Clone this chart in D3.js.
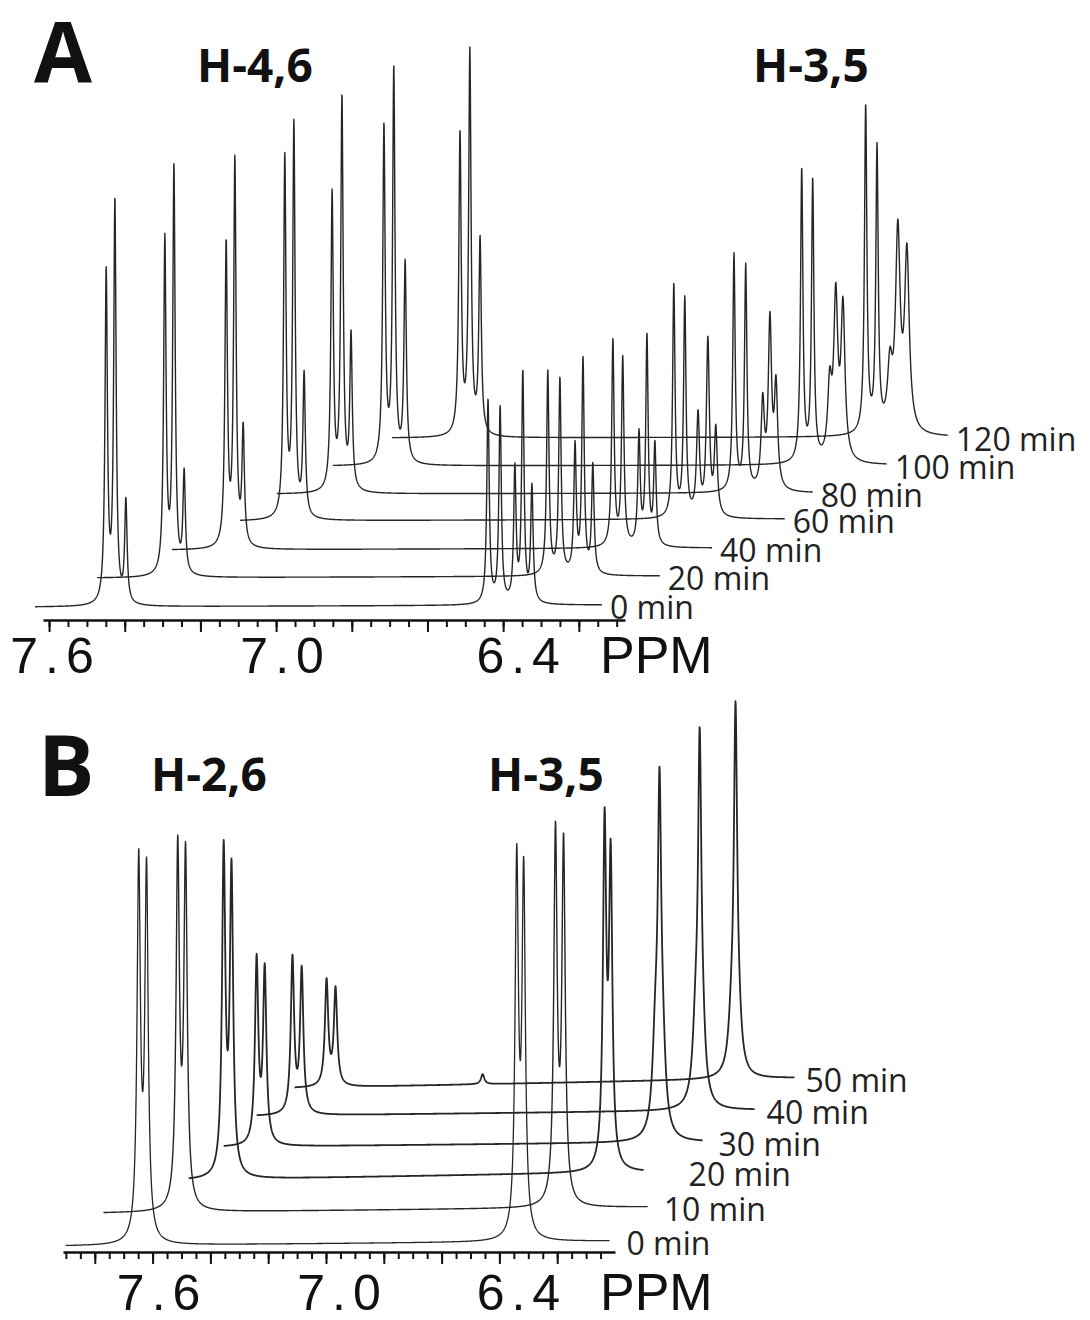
<!DOCTYPE html>
<html>
<head>
<meta charset="utf-8">
<script src="https://cdn.jsdelivr.net/npm/d3@7"></script>
<style>
  html, body { margin: 0; padding: 0; background: #fff; }
  svg { display: block; }
</style>
</head>
<body>
<div id="chart"></div>
<script>
// ==============================
// DATA
// ==============================

// --- panel A: H-4,6 and H-3,5, 0-120 min ---
const timesA = ['0 min', '20 min', '40 min', '60 min', '80 min', '100 min', '120 min'];
// ppm at the left and right end of every trace (as drawn against the axis)
const rangesA = [
  [7.637, 6.139], [7.473, 5.986], [7.275, 5.848], [7.095, 5.656],
  [6.998, 5.582], [6.850, 5.386], [6.694, 5.225],
];
// baseline level of each trace, left / right end (intensity units)
const basesA = [[-2, 0], [27, 29], [55, 57], [84, 86], [111, 112], [139, 140], [167, 168]];
// peaks: [ppm, height, half-width (optional, ppm)]
const peaksA = [
  [[7.449, 330], [7.426, 400], [7.397, 101], [6.440, 203], [6.408, 195], [6.369, 132], [6.348, 228], [6.324, 115]],
  [[7.294, 334], [7.270, 405], [7.243, 100], [6.282, 203], [6.250, 195], [6.210, 126], [6.189, 213], [6.163, 108]],
  [[7.132, 301], [7.109, 384], [7.087, 115], [6.110, 206], [6.084, 187], [6.041, 110], [6.020, 208], [5.999, 100]],
  [[6.977, 359], [6.953, 390], [6.926, 141], [5.949, 232], [5.920, 217], [5.885, 100, 0.0047], [5.859, 175, 0.0047], [5.838, 85, 0.0047]],
  [[6.852, 296], [6.826, 391], [6.802, 153], [5.790, 236], [5.759, 224], [5.714, 85, 0.0052], [5.695, 165, 0.0052], [5.679, 100, 0.0052]],
  [[6.715, 335], [6.689, 391], [6.659, 199], [5.611, 292], [5.582, 279], [5.537, 70, 0.0063], [5.521, 157, 0.0063], [5.502, 150, 0.0063]],
  [[6.514, 300], [6.488, 381], [6.461, 194], [5.442, 327], [5.412, 282], [5.378, 60, 0.0073], [5.357, 195, 0.0073], [5.333, 175, 0.0073]],
];

// --- panel B: H-2,6 and H-3,5, 0-50 min ---
const timesB = ['0 min', '10 min', '20 min', '30 min', '40 min', '50 min'];
const rangesB = [
  [7.901, 6.019], [7.770, 5.887], [7.475, 5.901],
  [7.354, 5.697], [7.240, 5.517], [7.109, 5.379],
];
const basesB = [[0, 5], [33, 39], [66, 74], [99, 104], [130, 136], [158, 168]];
const peaksB = [
  [[7.648, 375], [7.621, 366], [6.340, 371], [6.316, 358]],
  [[7.513, 356], [7.486, 349], [6.206, 367], [6.178, 355]],
  [[7.354, 321], [7.327, 301], [6.036, 336], [6.015, 301]],
  [[7.240, 183], [7.212, 173], [5.860, 90, 0.012], [5.846, 300], [5.835, 70, 0.012]],
  [[7.116, 155], [7.084, 143], [5.721, 70, 0.012], [5.707, 325], [5.697, 50, 0.012]],
  [[6.998, 105], [6.967, 96], [6.458, 10], [5.597, 45, 0.012], [5.583, 340], [5.572, 35, 0.012]],
];

// axis labels
const axisLabels = [7.6, 7.0, 6.4];

// ==============================
// LAYOUT
// ==============================
const W = 1090, H = 1320;
const traceColor = '#262626';

const svg = d3.select('#chart')
  .append('svg')
  .attr('width', W)
  .attr('height', H)
  .style('background', '#fff');

// sum of lorentzian lines at a given ppm
function lineShape(ppm, peaks, gDefault) {
  let v = 0;
  for (const p of peaks) {
    const g = p[2] || gDefault;
    const d = ppm - p[0];
    v += (p[1] * g * g) / (g * g + d * d);
  }
  return v;
}

function drawTraces(cfg) {
  const { x, y, times, ranges, bases, peaks, gamma, labelGap, width } = cfg;
  const g = svg.append('g');
  const line = d3.line().x((d) => x(d[0])).y((d) => y(d[1]));

  times.forEach((t, i) => {
    const [p0, p1] = ranges[i];
    const [b0, b1] = bases[i];
    const n = Math.ceil(Math.abs(x(p1) - x(p0)) * 4);
    const pts = d3.range(n + 1).map((k) => {
      const f = k / n;
      const p = p0 + (p1 - p0) * f;
      return [p, b0 + (b1 - b0) * f + lineShape(p, peaks[i], gamma)];
    });

    g.append('path')
      .attr('d', line(pts))
      .attr('fill', 'none')
      .attr('stroke', traceColor)
      .attr('stroke-width', width[i])
      .attr('stroke-linejoin', 'round');

    g.append('text')
      .attr('x', x(p1) + labelGap[i])
      .attr('y', y(b1) + 1)
      .attr('dominant-baseline', 'central')
      .attr('font-family', 'Open Sans, sans-serif')
      .attr('font-size', 32)
      .attr('fill', '#222')
      .text(t);
  });
}

// nudge: extra horizontal shift of each printed tick label (px)
function drawAxis(x, yPos, majors, minors, pad, nudge) {
  const minorG = svg.append('g').attr('transform', `translate(0,${yPos})`);
  minorG.call(d3.axisBottom(x).tickValues(minors).tickSize(7).tickSizeOuter(0).tickFormat(''));
  minorG.select('.domain').attr('stroke', '#111').attr('stroke-width', 2.5);
  minorG.selectAll('.tick line').attr('stroke', '#111').attr('stroke-width', 2);

  const isLabel = (d) => axisLabels.findIndex((l) => Math.abs(l - d) < 1e-6);
  const majorG = svg.append('g').attr('transform', `translate(0,${yPos})`);
  majorG.call(
    d3.axisBottom(x)
      .tickValues(majors)
      .tickSize(12)
      .tickPadding(pad)
      .tickFormat((d) => (isLabel(d) >= 0 ? d.toFixed(1) : ''))
  );
  majorG.select('.domain').remove();
  majorG.selectAll('.tick line').attr('stroke', '#111').attr('stroke-width', 2);
  majorG.selectAll('.tick text')
    .attr('font-family', 'Liberation Sans, Arial, sans-serif')
    .attr('font-size', 50)
    .attr('letter-spacing', 7)
    .attr('dx', (d) => 6 + (isLabel(d) >= 0 ? nudge[isLabel(d)] : 0))
    .attr('fill', '#111');

  svg.append('text')
    .attr('x', 600)
    .attr('y', yPos + 12 + pad + 36)
    .attr('font-family', 'Liberation Sans, Arial, sans-serif')
    .attr('font-size', 52)
    .attr('fill', '#111')
    .text('PPM');
}

function titles(items) {
  items.forEach(([txt, xx, yy, size]) => {
    svg.append('text')
      .attr('x', xx)
      .attr('y', yy)
      .attr('font-family', 'Open Sans, sans-serif')
      .attr('font-weight', 'bold')
      .attr('font-size', size)
      .attr('fill', '#111')
      .text(txt);
  });
}

// ---------- panel A ----------
const xA = d3.scaleLinear().domain([7.616, 6.078]).range([43, 625]);
const yA = d3.scaleLinear().domain([0, 600]).range([605, 5]);

drawTraces({
  x: xA, y: yA,
  times: timesA, ranges: rangesA, bases: basesA, peaks: peaksA,
  gamma: 0.0038,
  labelGap: timesA.map(() => 8),
  width: timesA.map(() => 1.4),
});
drawAxis(
  xA, 620,
  d3.range(7.6, 6.15, -0.2).map((d) => +d.toFixed(2)),
  d3.range(7.6, 6.08, -0.05).map((d) => +d.toFixed(2)),
  5,
  [0, 3, 12]
);
titles([['A', 34, 82, 84], ['H-4,6', 197, 82, 46], ['H-3,5', 753, 82, 46]]);

// ---------- panel B ----------
const xB = d3.scaleLinear().domain([7.91, 6.0]).range([63, 615]);
const yB = d3.scaleLinear().domain([0, 600]).range([1246, 646]);

drawTraces({
  x: xB, y: yB,
  times: timesB, ranges: rangesB, bases: basesB, peaks: peaksB,
  gamma: 0.0069,
  labelGap: [17, 16, 45, 16, 12, 11],
  width: [1.3, 1.4, 1.8, 1.8, 1.8, 1.8],
});
drawAxis(
  xB, 1252,
  d3.range(7.8, 6.15, -0.2).map((d) => +d.toFixed(2)),
  d3.range(7.9, 6.03, -0.05).map((d) => +d.toFixed(2)),
  10,
  [3, 10, 16]
);
titles([['B', 38, 796, 84], ['H-2,6', 151, 791, 46], ['H-3,5', 488, 791, 46]]);
</script>
</body>
</html>
